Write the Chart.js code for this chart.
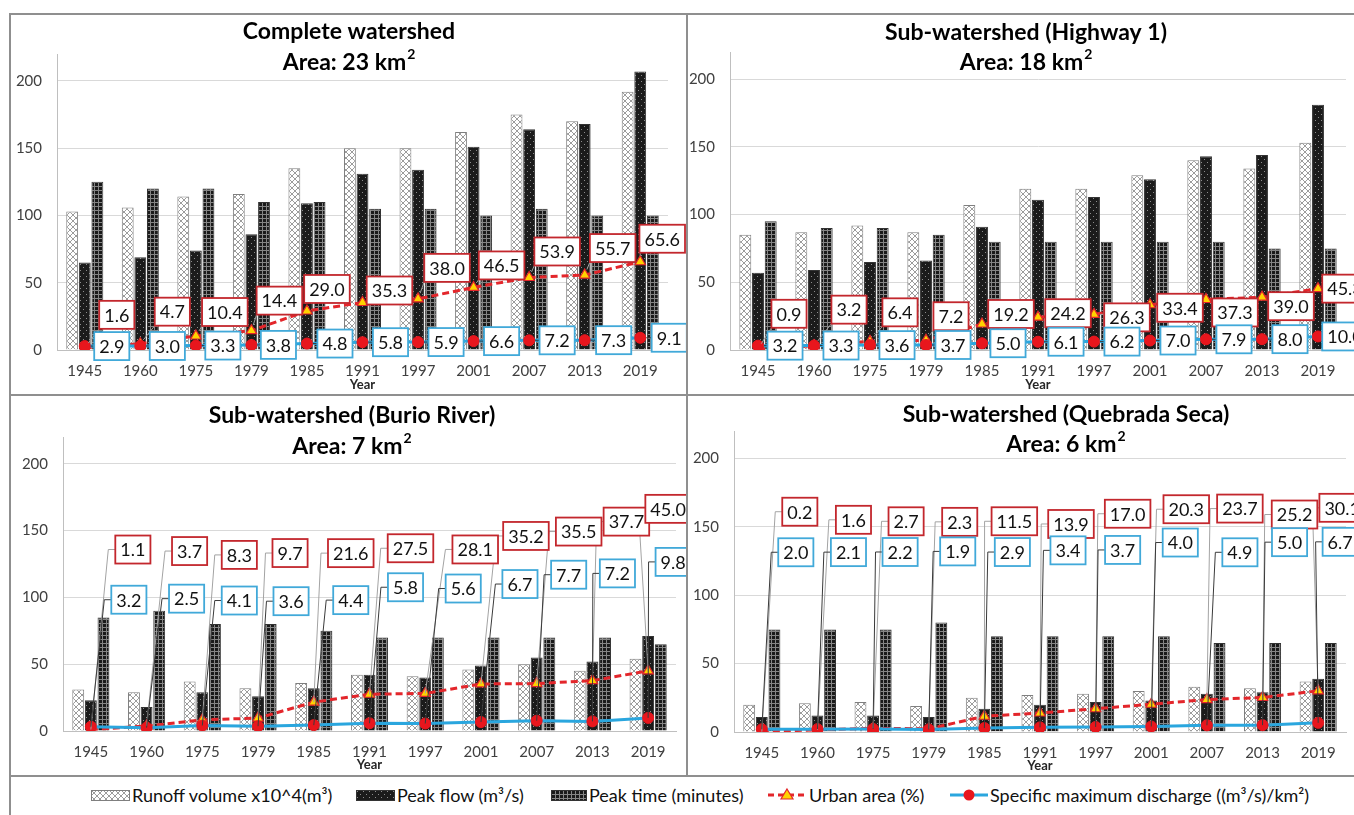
<!DOCTYPE html>
<html>
<head>
<meta charset="utf-8">
<script src="https://cdn.jsdelivr.net/npm/chart.js@4.4.1/dist/chart.umd.min.js"></script>
<style>
  html, body { margin: 0; padding: 0; background: #fff; }
  body { position: relative; width: 1354px; height: 815px; overflow: hidden; font-family: Lato, "Open Sans", sans-serif; }
  canvas.panel { position: absolute; }
  .rule { position: absolute; background: #8f8f8f; z-index: 5; }
  .sw { position: absolute; }
  .lg { position: absolute; top: 785px; height: 20px; line-height: 20px; font-size: 18px; color: #111; white-space: nowrap; }
</style>
</head>
<body>
<canvas id="complete" class="panel" width="677" height="381" style="left:10px;top:14px"></canvas>
<canvas id="highway" class="panel" width="680" height="381" style="left:687px;top:14px"></canvas>
<canvas id="burio" class="panel" width="677" height="382" style="left:10px;top:395px"></canvas>
<canvas id="quebrada" class="panel" width="680" height="382" style="left:687px;top:395px"></canvas>

<!-- frame rules -->
<div class="rule" style="left:10px;top:13px;width:1344px;height:2px"></div>
<div class="rule" style="left:9px;top:13px;width:2px;height:802px"></div>
<div class="rule" style="left:686px;top:13px;width:2px;height:763px"></div>
<div class="rule" style="left:10px;top:394px;width:1344px;height:2px"></div>
<div class="rule" style="left:10px;top:775px;width:1344px;height:2px"></div>

<!-- legend -->
<canvas class="sw" id="swRunoff" width="39" height="11" style="left:91px;top:790px"></canvas>
<span class="lg" style="left:132px">Runoff volume x10^4(m³)</span>
<canvas class="sw" id="swFlow" width="39" height="11" style="left:356px;top:790px"></canvas>
<span class="lg" style="left:397px">Peak flow (m³/s)</span>
<canvas class="sw" id="swTime" width="36" height="11" style="left:551px;top:790px"></canvas>
<span class="lg" style="left:589px">Peak time (minutes)</span>
<canvas class="sw" id="swUrban" width="40" height="18" style="left:767px;top:786px"></canvas>
<span class="lg" style="left:809px">Urban area (%)</span>
<canvas class="sw" id="swSpecific" width="38" height="18" style="left:950px;top:786px"></canvas>
<span class="lg" style="left:990px">Specific maximum discharge ((m³/s)/km²)</span>

<script>
// ---- data ----
const years = ['1945', '1960', '1975', '1979', '1985', '1991', '1997', '2001', '2007', '2013', '2019'];

// Complete watershed (23 km²)
const completeRunoff   = [103, 106, 114, 116, 135, 150, 150, 162, 175, 170, 192];
const completePeakFlow = [65, 69, 74, 86, 109, 131, 134, 151, 164, 168, 207];
const completePeakTime = [125, 120, 120, 110, 110, 105, 105, 100, 105, 100, 100];
const completeUrban    = [1.6, 4.7, 10.4, 14.4, 29.0, 35.3, 38.0, 46.5, 53.9, 55.7, 65.6];
const completeSpecific = [2.9, 3.0, 3.3, 3.8, 4.8, 5.8, 5.9, 6.6, 7.2, 7.3, 9.1];

// Sub-watershed Highway 1 (18 km²)
const highwayRunoff   = [85, 87, 92, 87, 107, 119, 119, 129, 140, 134, 153];
const highwayPeakFlow = [57, 59, 65, 66, 91, 111, 113, 126, 143, 144, 181];
const highwayPeakTime = [95, 90, 90, 85, 80, 80, 80, 80, 80, 75, 75];
const highwayUrban    = [0.9, 3.2, 6.4, 7.2, 19.2, 24.2, 26.3, 33.4, 37.3, 39.0, 45.3];
const highwaySpecific = [3.2, 3.3, 3.6, 3.7, 5.0, 6.1, 6.2, 7.0, 7.9, 8.0, 10.0];

// Sub-watershed Burio River (7 km²)
const burioRunoff   = [31, 29, 37, 32, 36, 42, 41, 46, 50, 45, 54];
const burioPeakFlow = [23, 18, 29, 26, 32, 42, 40, 49, 55, 52, 71];
const burioPeakTime = [85, 90, 80, 80, 75, 70, 70, 70, 70, 70, 65];
const burioUrban    = [1.1, 3.7, 8.3, 9.7, 21.6, 27.5, 28.1, 35.2, 35.5, 37.7, 45.0];
const burioSpecific = [3.2, 2.5, 4.1, 3.6, 4.4, 5.8, 5.6, 6.7, 7.7, 7.2, 9.8];

// Sub-watershed Quebrada Seca (6 km²)
const quebradaRunoff   = [20, 21, 22, 19, 25, 27, 28, 30, 33, 32, 37];
const quebradaPeakFlow = [11, 12, 12, 11, 17, 20, 22, 23, 28, 29, 39];
const quebradaPeakTime = [75, 75, 75, 80, 70, 70, 70, 70, 65, 65, 65];
const quebradaUrban    = [0.2, 1.6, 2.7, 2.3, 11.5, 13.9, 17.0, 20.3, 23.7, 25.2, 30.1];
const quebradaSpecific = [2.0, 2.1, 2.2, 1.9, 2.9, 3.4, 3.7, 4.0, 4.9, 5.0, 6.7];

const seriesNames = ['Runoff volume x10^4(m³)', 'Peak flow (m³/s)', 'Peak time (minutes)',
                     'Urban area (%)', 'Specific maximum discharge ((m³/s)/km²)'];

// ---- callout placement: [dx, dy] in pixels from each point to its label centre ----
const completeUrbanCallouts = [[32,-33],[32,-32],[29,-24],[28,-30],[20,-22],[27,-12],[29,-31],[28,-22],[28,-26],[28,-27],[22,-23]];
const completeSpecCallouts  = [[27,0],[27,0],[27,0],[27,0],[28,0],[28,0],[28,0],[28,0],[28,0],[29,0],[29,0]];
const highwayUrbanCallouts  = [[31,-35],[35,-36],[30,-29],[25,-24],[29,-10],[30,-4],[33,3],[30,3],[29,13],[29,9],[27,0]];
const highwaySpecCallouts   = [[27,0],[27,0],[27,0],[27,0],[26,0],[28,0],[28,0],[28,0],[28,0],[28,0],[27,0]];
const burioUrbanCallouts    = [[42,-180],[43,-175],[37,-165],[32,-165],[37,-149],[41,-146],[50,-144],[45,-148],[42,-152],[34,-159],[20,-162]];
const burioSpecCallouts     = [[38,-127],[40,-129],[37,-125],[33,-125],[37,-125],[36,-136],[38,-135],[39,-138],[32,-146],[25,-148],[25,-156]];
const quebradaUrbanCallouts = [[38,-220],[36,-210],[33,-207],[31,-207],[30,-195],[31,-189],[32,-195],[35,-195],[33,-191],[32,-183],[24,-183]];
const quebradaSpecCallouts  = [[34,-177],[31,-177],[27,-177],[29,-178],[28,-176],[28,-177],[27,-177],[29,-184],[33,-173],[27,-183],[22,-181]];

const FONT = 'Lato, "Open Sans", sans-serif';

// ---- fill patterns for the three bar series ----
function makePatterns(ctx) {
  const tile = (w, h, draw) => {
    const c = document.createElement('canvas');
    c.width = w; c.height = h;
    draw(c.getContext('2d'), w, h);
    return ctx.createPattern(c, 'repeat');
  };
  return {
    runoff: tile(6, 6, (g, w, h) => {
      g.fillStyle = '#ffffff'; g.fillRect(0, 0, w, h);
      g.strokeStyle = '#9c9c9c'; g.lineWidth = 1;
      g.beginPath();
      g.moveTo(0, 0); g.lineTo(w, h);
      g.moveTo(w, 0); g.lineTo(0, h);
      g.stroke();
    }),
    flow: tile(6, 6, (g, w, h) => {
      g.fillStyle = '#1b1b1b'; g.fillRect(0, 0, w, h);
      g.fillStyle = '#8d8d8d';
      g.fillRect(1, 1, 1, 1);
      g.fillRect(4, 4, 1, 1);
    }),
    time: tile(4, 4, (g, w, h) => {
      g.fillStyle = '#1a1a1a'; g.fillRect(0, 0, w, h);
      g.fillStyle = '#858585';
      g.fillRect(0, 0, w, 1);
      g.fillRect(0, 0, 1, h);
    })
  };
}

const URBAN_RED = '#e3262b';
const URBAN_FILL = '#ffd200';
const SPEC_BLUE = '#2aa6de';
const SPEC_RED = '#e8161d';

// ---- two-line panel heading with superscript ----
function titlePlugin(cfg) {
  return {
    id: 'panelTitle',
    afterDraw(chart) {
      const ctx = chart.ctx;
      ctx.save();
      ctx.fillStyle = '#000';
      ctx.textBaseline = 'middle';
      ctx.textAlign = 'center';
      ctx.font = `bold 23px ${FONT}`;
      ctx.fillText(cfg.title, cfg.titleX, cfg.titleY1);
      const main = `Area: ${cfg.area} km`;
      const w1 = ctx.measureText(main).width;
      ctx.font = `bold 14px ${FONT}`;
      const w2 = ctx.measureText('2').width;
      const x0 = cfg.titleX - (w1 + w2 + 1) / 2;
      ctx.textAlign = 'left';
      ctx.font = `bold 23px ${FONT}`;
      ctx.fillText(main, x0, cfg.titleY2);
      ctx.font = `bold 14px ${FONT}`;
      ctx.fillText('2', x0 + w1 + 1, cfg.titleY2 - 9);
      ctx.restore();
    }
  };
}

// ---- boxed value labels with leader lines ----
function calloutPlugin(cfg) {
  const specs = [
    { index: 3, offsets: cfg.urbanCallouts, edge: '#c3272d', leader: '#a3a3a3' },
    { index: 4, offsets: cfg.specCallouts,  edge: '#41a9d9', leader: '#3a3a3a' }
  ];
  return {
    id: 'callouts',
    afterDatasetsDraw(chart) {
      const ctx = chart.ctx;
      ctx.save();
      ctx.font = `18px ${FONT}`;
      const boxes = [];
      specs.forEach(spec => {
        const meta = chart.getDatasetMeta(spec.index);
        const values = chart.data.datasets[spec.index].data;
        meta.data.forEach((pt, i) => {
          const text = values[i].toFixed(1);
          const w = ctx.measureText(text).width + 10;
          const h = 28;
          const cx = pt.x + spec.offsets[i][0];
          const cy = pt.y + spec.offsets[i][1];
          boxes.push({ pt, text, w, h, cx, cy, spec, far: spec.offsets[i][1] < -60 });
        });
      });
      // leader lines
      ctx.lineWidth = 1;
      boxes.forEach(b => {
        const left = b.cx - b.w / 2, right = b.cx + b.w / 2;
        const top = b.cy - b.h / 2, bottom = b.cy + b.h / 2;
        ctx.strokeStyle = b.spec.leader;
        ctx.beginPath();
        if (b.far) {
          ctx.moveTo(b.pt.x, b.pt.y);
          ctx.lineTo(left - 7, b.cy);
          ctx.lineTo(left, b.cy);
        } else {
          const nx = Math.min(Math.max(b.pt.x, left), right);
          const ny = Math.min(Math.max(b.pt.y, top), bottom);
          const d = Math.hypot(nx - b.pt.x, ny - b.pt.y);
          if (d < 9) return;
          const sx = b.pt.x + (nx - b.pt.x) * 6 / d;
          const sy = b.pt.y + (ny - b.pt.y) * 6 / d;
          ctx.moveTo(sx, sy);
          ctx.lineTo(nx, ny);
        }
        ctx.stroke();
      });
      // label boxes
      ctx.textAlign = 'center';
      ctx.textBaseline = 'middle';
      boxes.forEach(b => {
        const left = b.cx - b.w / 2, top = b.cy - b.h / 2;
        ctx.fillStyle = '#ffffff';
        ctx.fillRect(left, top, b.w, b.h);
        ctx.strokeStyle = b.spec.edge;
        ctx.lineWidth = 1.8;
        ctx.strokeRect(left, top, b.w, b.h);
        ctx.fillStyle = '#111';
        ctx.fillText(b.text, b.cx, b.cy + 1);
      });
      ctx.restore();
    }
  };
}

function buildPanel(cfg) {
  const canvas = document.getElementById(cfg.id);
  const ctx = canvas.getContext('2d');
  const pat = makePatterns(ctx);
  const barCommon = { categoryPercentage: 0.68, barPercentage: 0.94, borderWidth: 1, order: 3 };
  return new Chart(ctx, {
    type: 'bar',
    data: {
      labels: years,
      datasets: [
        Object.assign({ label: seriesNames[0], data: cfg.runoff, backgroundColor: pat.runoff, borderColor: '#7f7f7f' }, barCommon),
        Object.assign({ label: seriesNames[1], data: cfg.peakFlow, backgroundColor: pat.flow, borderColor: '#333333' }, barCommon),
        Object.assign({ label: seriesNames[2], data: cfg.peakTime, backgroundColor: pat.time, borderColor: '#333333' }, barCommon),
        {
          type: 'line', label: seriesNames[3], data: cfg.urban, order: 1,
          borderColor: URBAN_RED, borderWidth: 3, borderDash: [7, 4], tension: 0, fill: false,
          pointStyle: 'triangle', pointRadius: 6, pointBackgroundColor: URBAN_FILL,
          pointBorderColor: URBAN_RED, pointBorderWidth: 1.2
        },
        {
          type: 'line', label: seriesNames[4], data: cfg.specific, order: 0,
          borderColor: SPEC_BLUE, borderWidth: 3, tension: 0, fill: false,
          pointStyle: 'circle', pointRadius: 5.5, pointBackgroundColor: SPEC_RED,
          pointBorderColor: SPEC_RED, pointBorderWidth: 1
        }
      ]
    },
    options: {
      responsive: false,
      animation: false,
      devicePixelRatio: 1,
      layout: { padding: { left: 0, top: cfg.plotTop, right: canvas.width - cfg.plotRight, bottom: 0 } },
      plugins: { legend: { display: false }, tooltip: { enabled: false }, title: { display: false } },
      scales: {
        x: {
          grid: { display: false, drawTicks: false },
          border: { display: true, color: '#bfbfbf', width: 1 },
          ticks: { font: { family: FONT, size: 15 }, color: '#404040', padding: 12, maxRotation: 0, autoSkip: false },
          title: { display: true, text: 'Year', font: { family: FONT, size: 13, weight: 'bold' }, color: '#262626', padding: { top: 0, bottom: cfg.yearPad } },
          afterFit(scale) { scale.height = canvas.height - cfg.plotBottom; }
        },
        y: {
          min: 0, max: 220,
          ticks: { stepSize: 50, includeBounds: false, font: { family: FONT, size: 15 }, color: '#404040', padding: 15 },
          grid: { color: '#d9d9d9', drawTicks: false },
          border: { display: true, color: '#bfbfbf', width: 1 },
          afterFit(scale) { scale.width = cfg.plotLeft; }
        }
      }
    },
    plugins: [titlePlugin(cfg), calloutPlugin(cfg)]
  });
}

buildPanel({
  id: 'complete', title: 'Complete watershed', area: '23',
  runoff: completeRunoff, peakFlow: completePeakFlow, peakTime: completePeakTime,
  urban: completeUrban, specific: completeSpecific,
  urbanCallouts: completeUrbanCallouts, specCallouts: completeSpecCallouts,
  plotLeft: 47, plotRight: 658, plotTop: 40, plotBottom: 336, yearPad: 2,
  titleX: 339, titleY1: 18, titleY2: 49
});
buildPanel({
  id: 'highway', title: 'Sub-watershed (Highway 1)', area: '18',
  runoff: highwayRunoff, peakFlow: highwayPeakFlow, peakTime: highwayPeakTime,
  urban: highwayUrban, specific: highwaySpecific,
  urbanCallouts: highwayUrbanCallouts, specCallouts: highwaySpecCallouts,
  plotLeft: 43, plotRight: 659, plotTop: 38, plotBottom: 336, yearPad: 2,
  titleX: 339, titleY1: 19, titleY2: 49
});
buildPanel({
  id: 'burio', title: 'Sub-watershed (Burio River)', area: '7',
  runoff: burioRunoff, peakFlow: burioPeakFlow, peakTime: burioPeakTime,
  urban: burioUrban, specific: burioSpecific,
  urbanCallouts: burioUrbanCallouts, specCallouts: burioSpecCallouts,
  plotLeft: 53, plotRight: 666, plotTop: 42, plotBottom: 336, yearPad: 4,
  titleX: 342, titleY1: 21, titleY2: 52
});
buildPanel({
  id: 'quebrada', title: 'Sub-watershed (Quebrada Seca)', area: '6',
  runoff: quebradaRunoff, peakFlow: quebradaPeakFlow, peakTime: quebradaPeakTime,
  urban: quebradaUrban, specific: quebradaSpecific,
  urbanCallouts: quebradaUrbanCallouts, specCallouts: quebradaSpecCallouts,
  plotLeft: 47, plotRight: 659, plotTop: 36, plotBottom: 337, yearPad: 3,
  titleX: 379, titleY1: 20, titleY2: 50
});

// ---- legend swatches ----
(function drawLegendSwatches() {
  const fillSwatch = (id, key, edge) => {
    const c = document.getElementById(id);
    const g = c.getContext('2d');
    const pat = makePatterns(g);
    g.fillStyle = pat[key];
    g.fillRect(0, 0, c.width, c.height);
    g.strokeStyle = edge; g.lineWidth = 1;
    g.strokeRect(0.5, 0.5, c.width - 1, c.height - 1);
  };
  fillSwatch('swRunoff', 'runoff', '#7f7f7f');
  fillSwatch('swFlow', 'flow', '#333');
  fillSwatch('swTime', 'time', '#333');

  const u = document.getElementById('swUrban').getContext('2d');
  u.strokeStyle = URBAN_RED; u.lineWidth = 3; u.setLineDash([6, 4]);
  u.beginPath(); u.moveTo(1, 9); u.lineTo(39, 9); u.stroke();
  u.setLineDash([]);
  u.beginPath(); u.moveTo(20, 3); u.lineTo(26, 13); u.lineTo(14, 13); u.closePath();
  u.fillStyle = URBAN_FILL; u.fill(); u.strokeStyle = URBAN_RED; u.lineWidth = 1.2; u.stroke();

  const s = document.getElementById('swSpecific').getContext('2d');
  s.strokeStyle = SPEC_BLUE; s.lineWidth = 3;
  s.beginPath(); s.moveTo(0, 9); s.lineTo(38, 9); s.stroke();
  s.beginPath(); s.arc(19, 9, 5.5, 0, Math.PI * 2); s.fillStyle = SPEC_RED; s.fill();
})();
</script>
</body>
</html>
